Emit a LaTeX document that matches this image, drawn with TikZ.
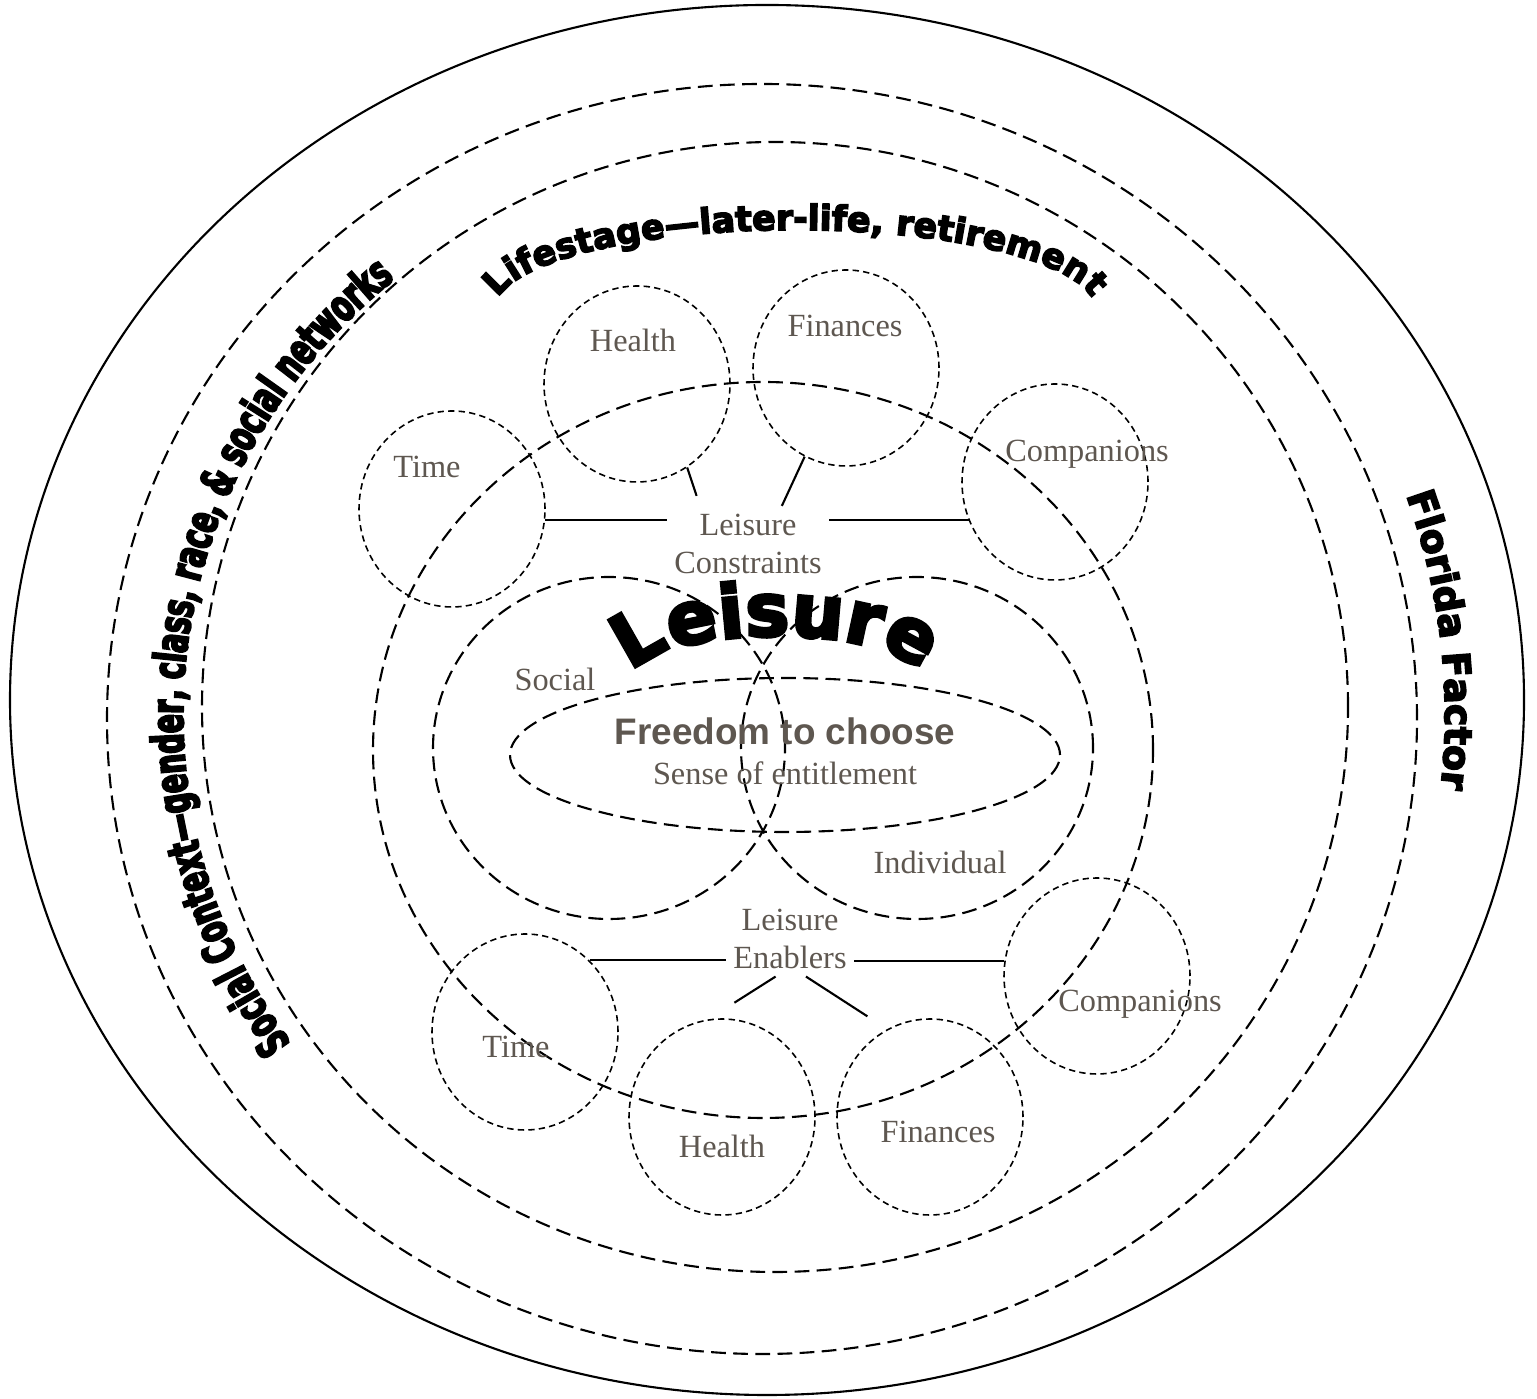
\documentclass[tikz,border=0pt]{standalone}
\usepackage{fontspec}
\setmainfont{Liberation Serif}
\newfontfamily\headsans{Liberation Sans}
\newfontfamily\archfont{DejaVu Sans Bold}[FakeBold=4.5]
\newfontfamily\archtall{DejaVu Sans Bold}[FakeBold=4.5,FakeStretch=0.63]
\usetikzlibrary{shapes.geometric,decorations.text}
\definecolor{labelgray}{HTML}{5E5750}

\begin{document}
\begin{tikzpicture}[
    ring/.style={line width=0.6pt, dash pattern=on 4.2pt off 2.1pt},
    factor/.style={ellipse, draw, line width=0.45pt, dash pattern=on 1.8pt off 1.2pt, minimum width=1.86cm, minimum height=1.96cm, inner sep=0pt},
    txtlbl/.style={text=labelgray, font=\fontsize{9.2}{10.8}\selectfont, align=center, inner sep=2pt},
    link/.style={line width=0.6pt}
]
    \useasboundingbox (0,0) rectangle (15.37,13.98);

    % --- OUTER RINGS ---
    \draw[line width=0.6pt] (7.67,6.98) ellipse [x radius=7.57, y radius=6.95];
    \draw[ring] (7.62,6.79) ellipse [x radius=6.55, y radius=6.35];
    \draw[ring] (7.75,6.91) ellipse [x radius=5.73, y radius=5.65];
    \draw[ring] (7.63,6.48) ellipse [x radius=3.90, y radius=3.68];

    % --- CORE ---
    \draw[ring] (6.09,6.50) ellipse [x radius=1.76, y radius=1.71];
    \draw[ring] (9.17,6.50) ellipse [x radius=1.76, y radius=1.71];
    \draw[ring] (7.85,6.43) ellipse [x radius=2.75, y radius=0.77];

    % --- ARCHED TITLES ---
    \path[decorate, decoration={text along path, text align=center,
        text={|\archfont\fontsize{9.9}{10}\selectfont|Lifestage{\textemdash}later-life, retirement}}]
        (7.95,10.88) ++(175:3.0 and 0.80) arc[start angle=175, end angle=5, x radius=3.0, y radius=0.80];
    \path[decorate, decoration={text along path, text align=center,
        text={|\archtall\fontsize{12.6}{13}\selectfont|Social Context{\textemdash}gender, class, race, {\&} social networks}}]
        (7.65,6.83) ++(220:5.82 and 5.65) arc[start angle=220, end angle=125, x radius=5.82, y radius=5.65];
    \path[decorate, decoration={text along path, text align=center,
        text={|\archfont\fontsize{10.75}{12}\selectfont|Florida Factor}}]
        (7.65,6.83) ++(25:6.80 and 6.60) arc[start angle=25, end angle=-12, x radius=6.80, y radius=6.60];
    \path[decorate, decoration={text along path, text align=center,
        text={|\archfont\fontsize{21}{22}\selectfont|Leisure}}]
        (7.76,7.20) ++(178:1.42 and 0.42) arc[start angle=178, end angle=2, x radius=1.42, y radius=0.42];

    % --- CONSTRAINTS AND ENABLERS ---
    \node[factor] (time1) at (4.52,8.89) {};
    \node[factor] (health1) at (6.37,10.14) {};
    \node[factor] (fin1) at (8.46,10.30) {};
    \node[factor] (comp1) at (10.55,9.16) {};
    \node[factor] (comp2) at (10.97,4.22) {};
    \node[factor] (time2) at (5.25,3.66) {};
    \node[factor] (health2) at (7.22,2.81) {};
    \node[factor] (fin2) at (9.30,2.81) {};

    \node[txtlbl] (time1txt) at (4.27,9.31) {Time};
    \node[txtlbl] (health1txt) at (6.33,10.58) {Health};
    \node[txtlbl] (fin1txt) at (8.45,10.72) {Finances};
    \node[txtlbl] (comp1txt) at (10.87,9.44) {Companions};
    \node[txtlbl] (lcon) at (7.48,8.545) {Leisure\\Constraints};
    \node[txtlbl] (social) at (5.55,7.19) {Social};
    \node[text=labelgray, font=\headsans\bfseries\fontsize{10.5}{12}\selectfont] (freedom) at (7.85,6.67) {Freedom to choose};
    \node[txtlbl] (entitle) at (7.85,6.25) {Sense of entitlement};
    \node[txtlbl] (indiv) at (9.40,5.36) {Individual};
    \node[txtlbl] (lenab) at (7.90,4.59) {Leisure\\Enablers};
    \node[txtlbl] (comp2txt) at (11.40,3.94) {Companions};
    \node[txtlbl] (time2txt) at (5.16,3.51) {Time};
    \node[txtlbl] (health2txt) at (7.22,2.52) {Health};
    \node[txtlbl] (fin2txt) at (9.38,2.66) {Finances};

    % links to the constraints
    \draw[link] (time1.-7) -- (time1.-7 -| lcon.west);
    \draw[link] (lcon.east |- comp1.204) -- (comp1.204);
    \draw[link, shorten >=3pt] (health1.-59) -- (lcon.142);
    \draw[link] (fin1.-115) -- (lcon.48);

    % links to the enablers
    \draw[link] (time2.48) -- (time2.48 -| lenab.west);
    \draw[link] (lenab.east |- comp2.171) -- (comp2.171);
    \draw[link, shorten >=8.8pt] (lenab.-111) -- (health2.98);
    \draw[link, shorten >=6.7pt] (lenab.-67) -- (fin2.116);
\end{tikzpicture}
\end{document}
